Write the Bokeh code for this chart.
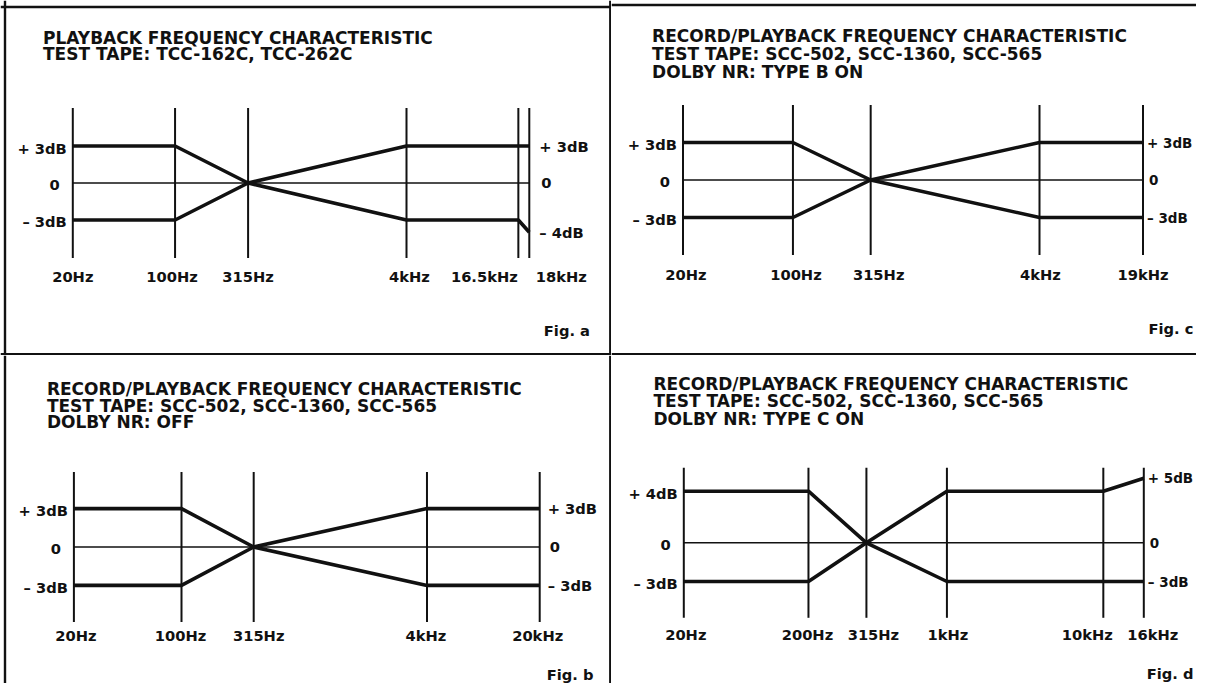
from bokeh.plotting import figure
from bokeh.layouts import gridplot
from bokeh.models import Range1d, Span
from bokeh.core.properties import value
from bokeh.embed import file_html
from bokeh.resources import INLINE

# ---------------- data ----------------
# Fig. a
a_title = ["PLAYBACK FREQUENCY CHARACTERISTIC", "TEST TAPE: TCC-162C, TCC-262C"]
a_freq_labels = ["20Hz", "100Hz", "315Hz", "4kHz", "16.5kHz", "18kHz"]
a_axis_pos = [0, 22.4, 38.4, 73.1, 97.6, 100]          # schematic frequency axis (% of span)
a_upper_db = [3, 3, 0, 3, 3, 3]
a_lower_db = [-3, -3, 0, -3, -3, -4]
a_left_ticks = [3, 0, -3]
a_left_labels = ["+ 3dB", "0", "– 3dB"]
a_right_ticks = [3, 0, -4]
a_right_labels = ["+ 3dB", "0", "– 4dB"]

# Fig. b
b_title = ["RECORD/PLAYBACK FREQUENCY CHARACTERISTIC",
           "TEST TAPE: SCC-502, SCC-1360, SCC-565", "DOLBY NR: OFF"]
b_freq_labels = ["20Hz", "100Hz", "315Hz", "4kHz", "20kHz"]
b_axis_pos = [0, 23.1, 38.6, 75.8, 100]
b_upper_db = [3, 3, 0, 3, 3]
b_lower_db = [-3, -3, 0, -3, -3]
b_left_ticks = [3, 0, -3]
b_left_labels = ["+ 3dB", "0", "– 3dB"]
b_right_ticks = [3, 0, -3]
b_right_labels = ["+ 3dB", "0", "– 3dB"]

# Fig. c
c_title = ["RECORD/PLAYBACK FREQUENCY CHARACTERISTIC",
           "TEST TAPE: SCC-502, SCC-1360, SCC-565", "DOLBY NR: TYPE B ON"]
c_freq_labels = ["20Hz", "100Hz", "315Hz", "4kHz", "19kHz"]
c_axis_pos = [0, 23.9, 40.8, 77.5, 100]
c_upper_db = [3, 3, 0, 3, 3]
c_lower_db = [-3, -3, 0, -3, -3]
c_left_ticks = [3, 0, -3]
c_left_labels = ["+ 3dB", "0", "– 3dB"]
c_right_ticks = [3, 0, -3]
c_right_labels = ["+ 3dB", "0", "– 3dB"]

# Fig. d
d_title = ["RECORD/PLAYBACK FREQUENCY CHARACTERISTIC",
           "TEST TAPE: SCC-502, SCC-1360, SCC-565", "DOLBY NR: TYPE C ON"]
d_freq_labels = ["20Hz", "200Hz", "315Hz", "1kHz", "10kHz", "16kHz"]
d_axis_pos = [0, 27.1, 39.7, 57.2, 91.2, 100]
d_upper_db = [4, 4, 0, 4, 4, 5]
d_lower_db = [-3, -3, 0, -3, -3, -3]
d_left_ticks = [4, 0, -3]
d_left_labels = ["+ 4dB", "0", "– 3dB"]
d_right_ticks = [5, 0, -3]
d_right_labels = ["+ 5dB", "0", "– 3dB"]

fig_names = ["Fig. a", "Fig. b", "Fig. c", "Fig. d"]

# ---------------- styling / layout ----------------
FONT = value("DejaVu Sans")
INK = "#111111"


def panel(W, H, px0, px100, py0, sy, title, labels, pos, upper, lower,
          lt, ll, rt, rl, figname, title_xy, title_step, fig_xy, drop,
          label_dx, right_gap, right_size, borders):
    sx = (px100 - px0) / 100.0

    def xd(px):
        return (px - px0) / sx

    def yd(py):
        return (py0 - py) / sy

    p = figure(width=W, height=H, x_range=Range1d(xd(0), xd(W)),
               y_range=Range1d(yd(H), yd(0)), output_backend="svg",
               toolbar_location=None, tools="", min_border=0,
               x_axis_location=None, y_axis_location=None)
    p.xgrid.grid_line_color = None
    p.ygrid.grid_line_color = None
    p.outline_line_color = None
    p.background_fill_color = "white"
    p.border_fill_color = "white"

    n = len(pos)
    top = 75.0 / sy
    p.segment(x0=pos, y0=[-top] * n, x1=pos, y1=[top] * n,
              line_color=INK, line_width=2)
    p.line(x=[pos[0], pos[-1]], y=[0, 0], line_color=INK, line_width=1.5)
    p.line(x=pos, y=upper, line_color=INK, line_width=3.6)
    p.line(x=pos, y=lower, line_color=INK, line_width=3.6)

    common = dict(text_font=FONT, text_font_style="bold", text_color=INK,
                  text_font_size="14.7px", text_baseline="middle")
    # left dB labels
    p.text(x=[pos[0]] * len(lt), y=lt, text=ll,
           x_offset=[-13 if t == "0" else -6 for t in ll],
           y_offset=[2] * len(lt), text_align="right", **common)
    # right dB labels
    rcommon = dict(common)
    rcommon["text_font_size"] = right_size
    p.text(x=[pos[-1]] * len(rt), y=rt, text=rl,
           x_offset=[right_gap + 2 if t == "0" else right_gap for t in rl],
           y_offset=[0] * len(rt), text_align="left", **rcommon)
    # frequency labels
    p.text(x=pos, y=[-drop / sy] * n, text=labels, x_offset=label_dx,
           text_align="center", **common)
    # title lines
    tx, ty = title_xy
    p.text(x=[xd(tx)] * len(title),
           y=[yd(ty + i * title_step) for i in range(len(title))],
           text=title, text_align="left", text_font=FONT,
           text_font_style="bold", text_color=INK, text_font_size="17px",
           text_baseline="middle")
    # figure label
    fx, fy = fig_xy
    p.text(x=[xd(fx)], y=[yd(fy)], text=[figname], text_align="right",
           **common)

    # panel frame lines
    bw = 2.4
    for side, loc in borders:
        if side == "v":
            p.add_layout(Span(location=xd(loc), dimension="height",
                              line_color=INK, line_width=bw))
        else:
            p.add_layout(Span(location=yd(loc), dimension="width",
                              line_color=INK, line_width=bw))
    return p


WL, WR, HT, HB = 611, 585, 355, 328

pa = panel(WL, HT, 72.3, 528.8, 182.5, 12.33, a_title, a_freq_labels,
           a_axis_pos, a_upper_db, a_lower_db, a_left_ticks, a_left_labels,
           a_right_ticks, a_right_labels, fig_names[0],
           (42.5, 37), 16.5, (589.5, 330), 93.5,
           [0, -3, 0, 3, -34, 32], 10, "14.7px",
           [("v", 4.5), ("h", 6.5), ("v", WL - 1.2), ("h", HT - 1.2)])
pc = panel(WR, HT, 71.5, 531.5, 179.5, 12.5, c_title, c_freq_labels,
           c_axis_pos, c_upper_db, c_lower_db, c_left_ticks, c_left_labels,
           c_right_ticks, c_right_labels, fig_names[2],
           (40.6, 35), 18, (582, 328), 94.5,
           [3, 3, 8, 1, 0], 4, "13.5px",
           [("h", 4.5), ("h", HT - 1.2)])
pb = panel(WL, HB, 73.4, 539.2, 191.5, 12.8, b_title, b_freq_labels,
           b_axis_pos, b_upper_db, b_lower_db, b_left_ticks, b_left_labels,
           b_right_ticks, b_right_labels, fig_names[1],
           (46.4, 33.3), 16.7, (593, 319), 88.5,
           [2, -1, 5, -1, -2], 8, "14.7px",
           [("v", 4.5), ("v", WL - 1.2)])
pd_ = panel(WR, HB, 72.3, 532.3, 187.3, 12.9, d_title, d_freq_labels,
            d_axis_pos, d_upper_db, d_lower_db, d_left_ticks, d_left_labels,
            d_right_ticks, d_right_labels, fig_names[3],
            (42, 28.3), 17.5, (582, 318), 91.7,
            [2, -1, 7, 1, -16, 9], 4, "13.5px",
            [])

grid = gridplot([[pa, pc], [pb, pd_]], toolbar_location=None)

open("out.html", "w").write(file_html(grid, INLINE))
